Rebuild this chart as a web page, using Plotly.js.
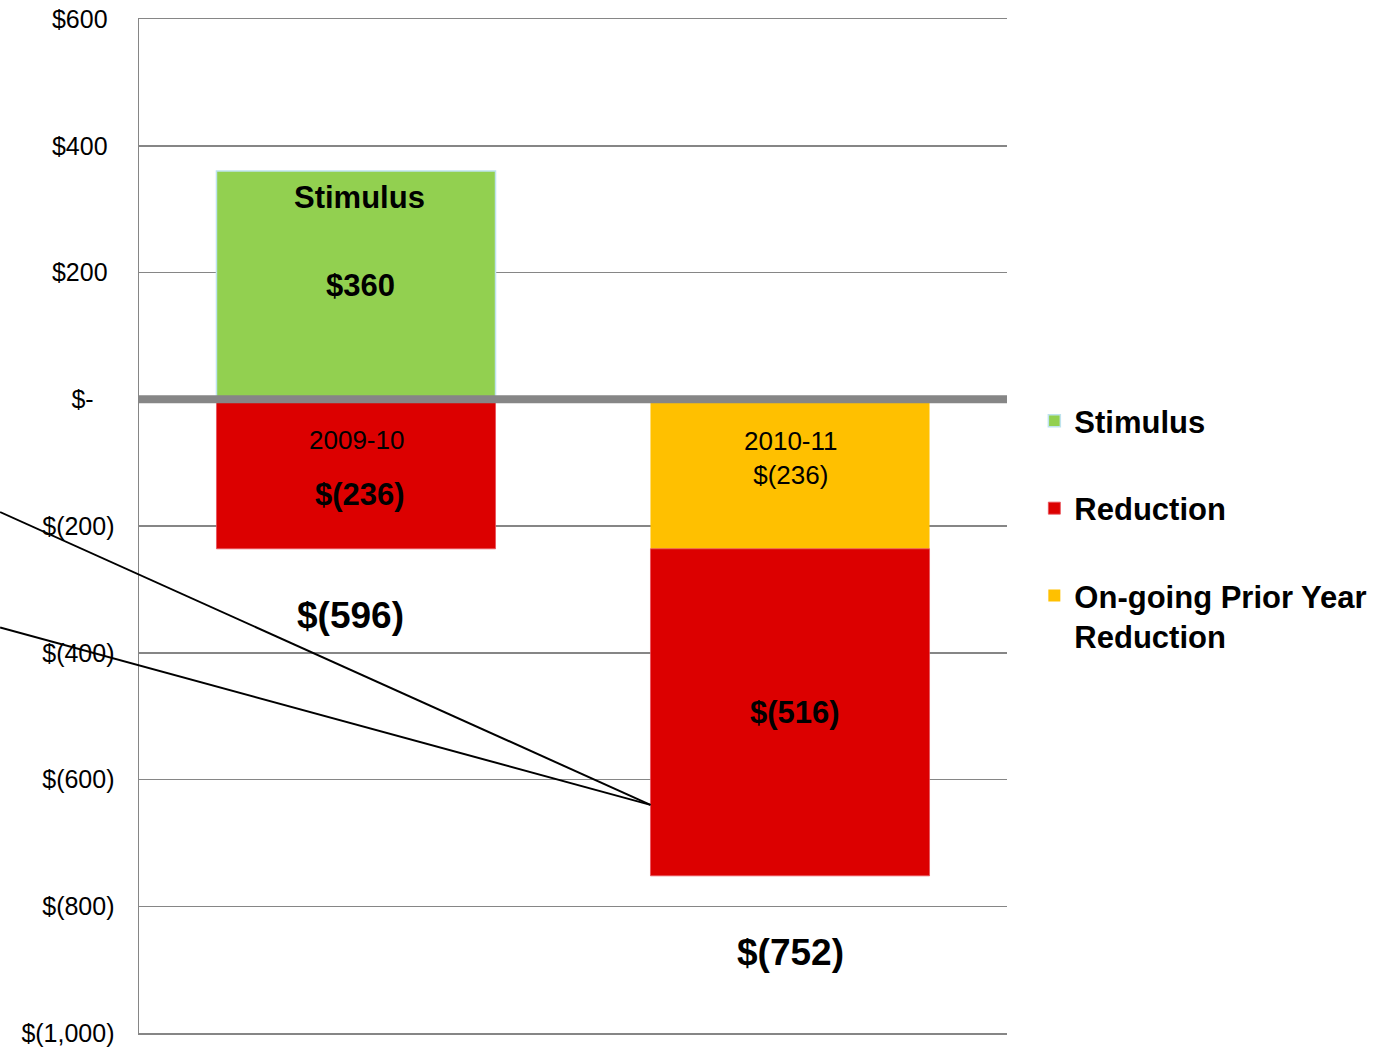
<!DOCTYPE html>
<html>
<head>
<meta charset="utf-8">
<script src="https://cdn.plot.ly/plotly-3.0.1.min.js"></script>
<style>
  html, body { margin: 0; padding: 0; background: #ffffff; }
  #chart { width: 1393px; height: 1049px; }
</style>
</head>
<body>
<div id="chart"></div>
<script>
// Budget change by fiscal year (in $ millions)
const categories = ['2009-10', '2010-11'];
const stimulus   = [360, null];
const reduction  = [-236, -516];
const ongoing    = [null, -236];
const netChange  = [-596, -752];
const tickValues = [600, 400, 200, 0, -200, -400, -600, -800, -1000];

const Y_MIN = -1000, Y_MAX = 600;
const X_MIN = -0.5, X_MAX = 1.5;
const BAR_WIDTH = 0.643;

const GREEN = '#92D050';
const RED = '#DC0000';
const GOLD = '#FFC000';
const GRID = '#868686';
const FONT = 'Liberation Sans, Arial, sans-serif';

// Accounting-style currency text: $360, $(236), $-
function money(v) {
  if (v === 0) return '$-';
  const s = Math.abs(v).toLocaleString('en-US');
  return v < 0 ? '$(' + s + ')' : '$' + s;
}
// Tick text keeps the accounting alignment (positives padded for the ")")
function tickText(v) {
  if (v === 0) return '$-\u00A0\u00A0\u00A0';
  return v > 0 ? money(v) + '\u00A0' : money(v);
}

const traces = [
  {
    type: 'bar', name: 'Stimulus', x: categories, y: stimulus,
    width: BAR_WIDTH, legendgroup: 'a', legendrank: 1,
    marker: { color: GREEN, line: { color: '#BFE3EE', width: 1.5 } },
    hoverinfo: 'skip'
  },
  {
    type: 'bar', name: 'On-going Prior Year<br>Reduction', x: categories, y: ongoing,
    width: BAR_WIDTH, legendgroup: 'c', legendrank: 3,
    marker: { color: GOLD, line: { width: 0 } },
    hoverinfo: 'skip'
  },
  {
    type: 'bar', name: 'Reduction', x: categories, y: reduction,
    width: BAR_WIDTH, legendgroup: 'b', legendrank: 2,
    marker: { color: RED, line: { color: '#E8505A', width: 0.8 } },
    hoverinfo: 'skip'
  }
];

// data -> paper helpers, so overlay lines can extend past the plot area
const px = x => (x - X_MIN) / (X_MAX - X_MIN);
const py = y => (y - Y_MIN) / (Y_MAX - Y_MIN);

// Pointer lines converging on the left edge of the 2010-11 bar
const pointerTip = { x: 1 - BAR_WIDTH / 2, y: -640 };
const pointerTails = [{ x: -0.82, y: -178 }, { x: -0.82, y: -360 }];

const shapes = [
  // heavy baseline at $0, drawn over the bars
  { type: 'line', xref: 'paper', yref: 'paper', layer: 'above',
    x0: 0, x1: 1, y0: py(0), y1: py(0), line: { color: GRID, width: 8 } }
].concat(pointerTails.map(t => ({
  type: 'line', xref: 'paper', yref: 'paper', layer: 'above',
  x0: px(t.x), y0: py(t.y), x1: px(pointerTip.x), y1: py(pointerTip.y),
  line: { color: '#000000', width: 2 }
})));

const bold = (size) => ({ family: FONT, size: size, color: '#000000', weight: 'bold' });
const plain = (size) => ({ family: FONT, size: size, color: '#000000' });
function note(x, y, text, font, xshift) {
  return { x: x, y: y, xref: 'x', yref: 'y', text: text, showarrow: false,
           font: font, xanchor: 'center', yanchor: 'middle', xshift: xshift || 0 };
}

const annotations = [
  note(categories[0], 319, 'Stimulus', bold(31), 3),
  note(categories[0], stimulus[0] / 2, money(stimulus[0]), bold(31), 4),
  note(categories[0], -65, categories[0], plain(26)),
  note(categories[0], -150, money(reduction[0]), bold(31), 4),
  note(categories[0], -342, money(netChange[0]), bold(37), -6),
  note(categories[1], -92, categories[1] + '<br>' + money(ongoing[1]), plain(26), 1),
  note(categories[1], ongoing[1] + reduction[1] / 2, money(reduction[1]), bold(31), 5),
  note(categories[1], -873, money(netChange[1]), bold(37), 0)
];

const layout = {
  width: 1393, height: 1049,
  margin: { l: 139, r: 386, t: 19, b: 16, pad: 0 },
  paper_bgcolor: '#ffffff', plot_bgcolor: '#ffffff',
  barmode: 'relative',
  showlegend: true,
  font: { family: FONT, color: '#000000' },
  xaxis: {
    type: 'category', range: [X_MIN, X_MAX],
    showticklabels: false, showgrid: false, zeroline: false,
    // top and bottom edge lines stand in for the $600 and $(1,000) gridlines
    showline: true, mirror: true, linecolor: GRID, linewidth: 1.5,
    ticks: '', fixedrange: true
  },
  yaxis: {
    range: [Y_MIN, Y_MAX], tickvals: tickValues, ticktext: tickValues.map(tickText),
    tickfont: { family: FONT, size: 25, color: '#000000' },
    showgrid: true, gridcolor: GRID, gridwidth: 1.5,
    zeroline: false, showline: true, linecolor: GRID, linewidth: 1.5,
    ticks: '', ticklabelstandoff: 18, fixedrange: true
  },
  legend: {
    x: 1.0315, xanchor: 'left', y: 0.630, yanchor: 'top',
    traceorder: 'grouped', tracegroupgap: 44, valign: 'top',
    font: { family: FONT, size: 31, color: '#000000', weight: 'bold' },
    bgcolor: 'rgba(0,0,0,0)', borderwidth: 0
  },
  shapes: shapes,
  annotations: annotations
};

Plotly.newPlot('chart', traces, layout, { displayModeBar: false, staticPlot: true });
</script>
</body>
</html>
